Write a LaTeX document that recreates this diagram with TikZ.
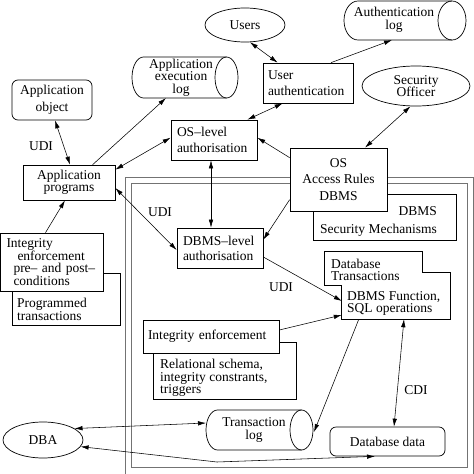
\documentclass[tikz,border=0pt]{standalone}
\usepackage{fontspec}
\setmainfont{Liberation Serif}
\usetikzlibrary{arrows.meta,calc,shapes.geometric}
\begin{document}
\begin{tikzpicture}[x=1pt,y=-1pt,
  txt/.style={font=\rmfamily\fontsize{13.5}{12.5}\selectfont, inner sep=0pt},
  loose/.style={font=\rmfamily\fontsize{13.5}{16.5}\selectfont},
  box/.style={txt, draw, fill=white, rectangle, line width=0.7pt},
  rbox/.style={box, rounded corners=6pt},
  oval/.style={txt, draw, fill=white, ellipse, line width=0.7pt},
  cyl/.style={draw, fill=white, line width=0.7pt},
  frame/.style={draw=black!55, line width=0.9pt},
  conn/.style={line width=0.55pt},
  both/.style={conn, {Latex[length=8pt,width=4.5pt]}-{Latex[length=8pt,width=4.5pt]}},
  one/.style={conn, -{Latex[length=8pt,width=4.5pt]}}
]
\useasboundingbox (0,0) rectangle (474,474);
\fill[white] (0,0) rectangle (474,474);

% double frame
\draw[frame] (125,177) rectangle (473,482);
\draw[frame] (131,183) rectangle (467,467);

% cylinders
\draw[cyl] (226.5,57) -- (143.5,57) arc[start angle=90,end angle=270,x radius=11.5pt,y radius=20.5pt]
  -- (226.5,98) arc[start angle=-90,end angle=90,x radius=11.5pt,y radius=20.5pt] -- cycle;
\draw[line width=0.7pt] (226.5,57) arc[start angle=90,end angle=270,x radius=11.5pt,y radius=20.5pt];
\node[txt, align=center] (appexec) at (181,77.5) {Application\\execution\\log};

\draw[cyl] (452,1) -- (358,1) arc[start angle=90,end angle=270,x radius=14pt,y radius=19.5pt]
  -- (452,40) arc[start angle=-90,end angle=90,x radius=14pt,y radius=19.5pt] -- cycle;
\draw[line width=0.7pt] (452,1) arc[start angle=90,end angle=270,x radius=14pt,y radius=19.5pt];
\node[txt, align=center] (authlog) at (394,20) {Authentication\\log};

\draw[cyl] (301.5,410) -- (217.5,410) arc[start angle=90,end angle=270,x radius=11.5pt,y radius=20pt]
  -- (301.5,450) arc[start angle=-90,end angle=90,x radius=11.5pt,y radius=20pt] -- cycle;
\draw[line width=0.7pt] (301.5,410) arc[start angle=90,end angle=270,x radius=11.5pt,y radius=20pt];
\node[txt, align=center] (translog) at (254,430) {Transaction\\log};

% nodes
\node[oval, minimum width=80pt, minimum height=34pt] (users) at (245,25) {Users};
\node[rbox, loose, minimum width=80pt, minimum height=40pt, align=center] (appobj) at (52,100) {Application\\object};
\node[box, minimum width=92pt, minimum height=35pt, align=center] (appprog) at (69,182.5) {Application\\programs};
\node[box, loose, minimum width=86pt, minimum height=40pt, text width=74pt, align=left] (oslevel) at (214,140) {OS--level\\authorisation};
\node[box, font=\rmfamily\fontsize{13.5}{16}\selectfont, minimum width=90pt, minimum height=40pt, text width=80pt, align=left] (userauth) at (308,83) {User\\authentication};
\node[oval, minimum width=108pt, minimum height=40pt, align=center] (secoff) at (416,86) {Security\\Officer};

\node[box, minimum width=143pt, minimum height=46pt] (dbmssec) at (384.5,217) {};
\node[txt, align=right, anchor=east, font=\rmfamily\fontsize{13.5}{18}\selectfont] (dbmssect) at (437,221) {DBMS\\Security Mechanisms};
\node[box, loose, minimum width=97pt, minimum height=63pt, align=center] (osrules) at (338.5,179.5) {OS\\Access Rules\\DBMS};

\node[box, font=\rmfamily\fontsize{13.5}{15}\selectfont, minimum width=86pt, minimum height=40pt, text width=74pt, align=left] (dbmslevel) at (220,248) {DBMS--level\\authorisation};

\node[box, minimum width=108pt, minimum height=52pt] (progtr) at (66,299) {};
\node[txt, anchor=west, align=left] (progtrt) at (17,309.5) {Programmed\\transactions};
\node[box, minimum width=103pt, minimum height=58pt, text width=91pt, align=left] (intpp) at (52,262) {Integrity\\\hspace*{11pt}enforcement\\\hspace*{7pt}pre-- and post--\\\hspace*{7pt}conditions};

% union of two boxes
\node[txt, fill=white, minimum width=97pt, minimum height=33pt] (dbtrans) at (373.5,268.5) {};
\node[txt, fill=white, minimum width=108pt, minimum height=46pt] (dbmsfn) at (396,296) {};
\draw[line width=0.7pt] (dbtrans.north west) -- (dbtrans.north east) -- (dbtrans.east |- dbmsfn.north)
  -- (dbmsfn.north east) -- (dbmsfn.south east) -- (dbmsfn.south west)
  -- (dbmsfn.west |- dbtrans.south) -- (dbtrans.south west) -- cycle;
\node[txt, anchor=west, align=left] (dbtranst) at (331,270) {Database\\Transactions};
\node[txt, anchor=west, align=left] (dbmsfnt) at (347,303.5) {DBMS Function,\\SQL operations};

\node[box, minimum width=143pt, minimum height=57pt] (relsch) at (224.5,370.5) {};
\node[txt, anchor=west, align=left] (relscht) at (160,378) {Relational schema,\\integrity constrants,\\triggers};
\node[box, minimum width=136pt, minimum height=33pt, text width=126pt, align=left] (intenf) at (211,336.5) {Integrity enforcement};

\node[rbox, minimum width=115pt, minimum height=29pt] (dbdata) at (387.5,441.5) {Database data};
\node[oval, minimum width=80pt, minimum height=36pt] (dba) at (43,440) {DBA};

% labels
\node[txt] (udia) at (41,146) {UDI};
\node[txt] (udib) at (160,212) {UDI};
\node[txt] (udic) at (281,287) {UDI};
\node[txt] (cdi) at (416,390) {CDI};

% connectors
\draw[both] (users.-74) -- ($(userauth.north west)+(15,0)$);
\draw[one] ($(userauth.north)+(23,0)$) -- ($(authlog)+(-2,20)$);
\draw[both] ($(userauth.south west)+(20,0)$) -- ($(oslevel.north east)+(-10,0)$);
\draw[one] ($(osrules.north west)+(0,10)$) -- ($(oslevel.north east)+(0,18)$);
\draw[one] ($(osrules.north west)+(0,52)$) -- ($(dbmslevel.north east)+(0,12)$);
\draw[both] (secoff.-105) -- ($(osrules.north)+(26.5,0)$);
\draw[both] ($(oslevel.south)+(-3,0)$) -- ($(dbmslevel.north)+(-9,0)$);
\draw[both] ($(appprog.north east)+(0,5)$) -- ($(oslevel.north west)+(0,18)$);
\draw[one] ($(appprog.north west)+(70,0)$) -- ($(appexec)+(-15,20.5)$);
\draw[both] ($(appobj.south)+(3,0)$) -- ($(appprog.north)+(1,0)$);
\draw[one] ($(intpp.north)+(-6.5,0)$) -- ($(appprog.south)+(-4,0)$);
\draw[both] ($(appprog.east)+(0,5.5)$) -- ($(dbmslevel.west)+(0,2)$);
\draw[one] ($(dbmslevel.east)+(0,9)$) -- ($(dbmsfn.west)+(0,5)$);
\draw[one] ($(intenf.east)+(0,-6.5)$) -- ($(dbmsfn.west)+(0,19)$);
\draw[one] ($(dbmsfn.south west)+(17,0)$) -- ($(translog)+(60,2)$);
\draw[both] ($(dbmsfn.south)+(8,0)$) -- ($(dbdata.north)+(6.5,0)$);
\draw[both] (dba.20) -- ($(translog)+(-48,-7)$);
\coordinate (bend) at (217,462);
\draw[both] (dba.-10) -- (bend) -- ($(dbdata.south)+(-12.5,0)$);
\end{tikzpicture}
\end{document}
